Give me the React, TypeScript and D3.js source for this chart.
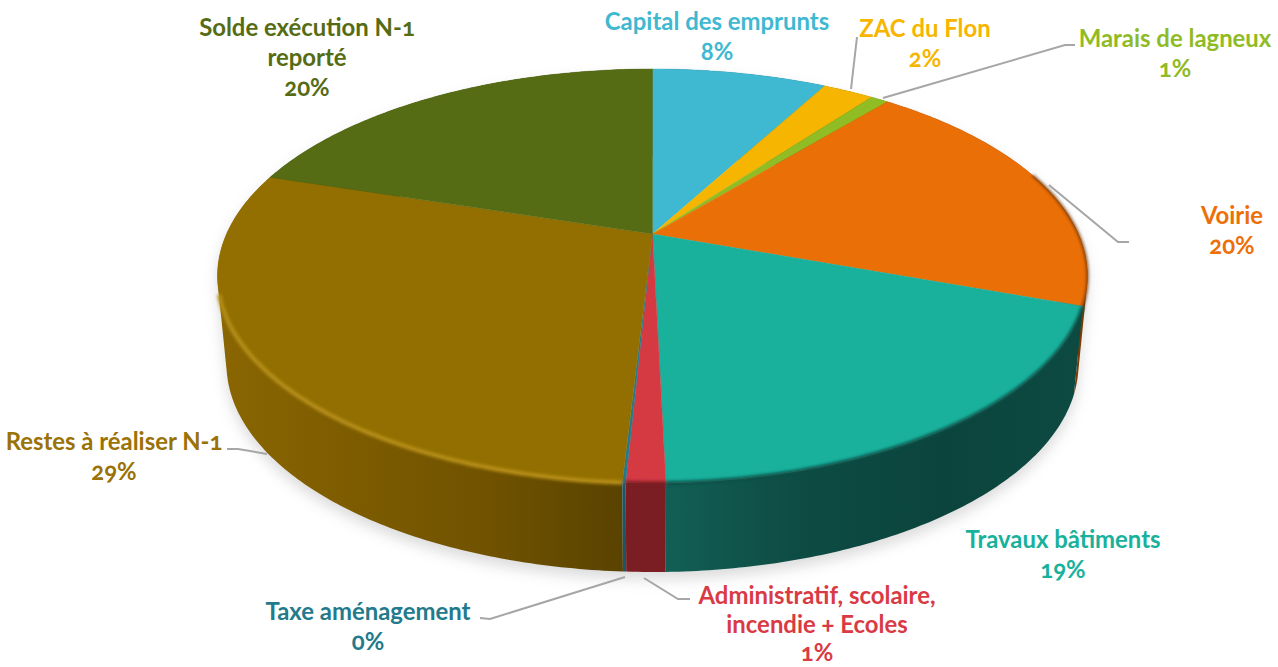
import React from "react";
import * as d3 from "d3";

const categories = ["Capital des emprunts", "ZAC du Flon", "Marais de lagneux", "Voirie", "Travaux bâtiments", "Administratif, scolaire, incendie + Ecoles", "Taxe aménagement", "Restes à réaliser N-1", "Solde exécution N-1 reporté"];
const values = [7.9, 2.3, 0.8, 19.5, 19.1, 1.2, 0.1, 29.0, 20.1];
const topColors = ["#3fb8d1", "#f5b500", "#90bc24", "#eb6f07", "#19b09c", "#d53a43", "#237a8c", "#926f00", "#566c14"];
const textColors = ["#3fb8d1", "#f7b500", "#8fbb25", "#ec7007", "#18b19c", "#d93a44", "#237a8c", "#9a7206", "#566c14"];
const wallStops = [
  ["#1f5d69"], ["#7a5a00"], ["#48601a"], ["#7a3a02"],
  ["#125f55", "#0d4b43", "#0b443d", "#0d4a42"],
  ["#7a1e24"], ["#1a5666"],
  ["#8a6602", "#7d5c00", "#705200", "#5a4300"],
  ["#2f3c0b"],
];
const rimColors = ["none", "none", "none", "#6b3200", "#0c4f46", "#7a1e24", "#1a5666", "#b48c12", "none"];
const labelLines = [
  ["Capital des emprunts"], ["ZAC du Flon"], ["Marais de lagneux"], ["Voirie"], ["Travaux bâtiments"],
  ["Administratif, scolaire,", "incendie + Ecoles"], ["Taxe aménagement"], ["Restes à réaliser N-1"], ["Solde exécution N-1", "reporté"],
];
const labelX = [717, 925, 1175, 1232, 1063, 817, 368, 114, 307];
const labelY = [30, 37, 47, 224, 548, 604, 620, 450, 36];
const labelGap = [30, 30, 30, 30, 30, 28.5, 30, 30, 30];
const leaderPoints: [number, number][][] = [
  [],
  [[857, 37], [851, 89]],
  [[1075, 45], [1065, 45], [883, 98]],
  [[1049, 185], [1118, 242], [1129, 242]],
  [],
  [[644, 578], [678, 599], [690, 599]],
  [[480, 618], [490, 619], [625, 577]],
  [[227, 449], [238, 449], [267, 454]],
  [],
];

const W = 1278, H = 667;
const cx = 652.5;
const topEllipse = { rx: 435, ry: 207, cy: 276 };
const botEllipse = { rx: 426, ry: 208, cy: 364 };
const k = -0.203;

type E = typeof topEllipse;
type P = [number, number];
function rim(e: E, a: number, r = 1): P {
  const x = Math.sin(a) * r, y = -Math.cos(a) * r;
  const d = 1 + k * y;
  return [cx + e.rx * (x * Math.sqrt(1 - k * k)) / d, e.cy + e.ry * (y + k) / d];
}
const pie = d3.pie<number>().sort(null).value((d) => d);
const arcs = pie(values);
const line = d3.line();
const samples = (a0: number, a1: number) => d3.range(Math.max(2, Math.ceil((a1 - a0) / 0.012)) + 1).map((i, _, all) => a0 + ((a1 - a0) * i) / (all.length - 1));

const order = arcs.map((_, i) => i).sort((p, q) => {
  const m = (i: number) => Math.abs((arcs[i].startAngle + arcs[i].endAngle) / 2 - Math.PI);
  return m(q) - m(p);
});

// Swept side of one slice: every quad wound the same way so one path fills without seams.
function wallPath(a0: number, a1: number): string {
  const a = samples(a0, a1);
  return a.slice(1).map((v, j) => {
    const q: P[] = [rim(topEllipse, a[j]), rim(topEllipse, v), rim(botEllipse, v), rim(botEllipse, a[j])];
    const pts = d3.polygonArea(q) < 0 ? q.slice().reverse() : q;
    return (line(pts) ?? "") + "Z";
  }).join("");
}
const xExtent = (a0: number, a1: number) => d3.extent(samples(a0, a1).map((v) => rim(topEllipse, v)[0])) as [number, number];

export default function App() {
  return (
    <svg width={W} height={H} viewBox={`0 0 ${W} ${H}`} style={{ position: "absolute", left: 0, top: 0, display: "block", background: "#fff" }}>
      <defs>
        <filter id="shadow" x="-10%" y="-10%" width="120%" height="130%"><feGaussianBlur stdDeviation="7" /></filter>
        <filter id="soft" x="-5%" y="-5%" width="110%" height="110%"><feGaussianBlur stdDeviation="1.6" /></filter>
        {arcs.map((d, i) => {
          const [x0, x1] = xExtent(d.startAngle, d.endAngle);
          const stops = wallStops[i];
          return (
            <linearGradient key={i} id={`wall${i}`} gradientUnits="userSpaceOnUse" x1={x0} x2={x1} y1={0} y2={0}>
              {stops.map((s, j) => <stop key={j} offset={stops.length > 1 ? j / (stops.length - 1) : 0} stopColor={s} />)}
            </linearGradient>
          );
        })}
      </defs>
      <g filter="url(#shadow)" opacity={0.62} transform="translate(0,7)">
        <path d={wallPath(0, Math.PI * 2)} fill="#c4c4c4" />
      </g>
      {order.map((i) => (
        <path key={i} d={wallPath(arcs[i].startAngle, arcs[i].endAngle)} fill={`url(#wall${i})`} />
      ))}
      {arcs.map((d, i) => {
        const pts: P[] = [rim(topEllipse, 0, 0), ...samples(d.startAngle, d.endAngle).map((v) => rim(topEllipse, v))];
        return <path key={i} d={(line(pts) ?? "") + "Z"} fill={topColors[i]} stroke={topColors[i]} strokeWidth={0.4} />;
      })}
      <g filter="url(#soft)" fill="none">
        {arcs.map((d, i) => {
          if (rimColors[i] === "none") return null;
          const pts = samples(d.startAngle, d.endAngle).map((v) => rim(topEllipse, v)).filter((p) => p[1] > (i === 3 ? 175 : 292));
          return <path key={i} d={line(pts) ?? ""} stroke={rimColors[i]} strokeWidth={i === 3 ? 2 : i === 7 ? 4.5 : 3.5} />;
        })}
      </g>
      {leaderPoints.map((p, i) => p.length ? <path key={i} d={line(p) ?? ""} fill="none" stroke="#a6a6a6" strokeWidth={2} /> : null)}
      <g fontFamily="Lato, 'Open Sans', sans-serif" fontWeight={700} fontSize={23.9} textAnchor="middle" style={{ fontFeatureSettings: '"onum"' }}>
        {categories.map((_, i) => (
          <text key={i} fill={textColors[i]}>
            {labelLines[i].map((s, j) => <tspan key={j} x={labelX[i]} y={labelY[i] + j * labelGap[i]}>{s}</tspan>)}
            <tspan x={labelX[i]} y={labelY[i] + labelLines[i].length * labelGap[i]}>{d3.format(".0f")(values[i])}%</tspan>
          </text>
        ))}
      </g>
    </svg>
  );
}
